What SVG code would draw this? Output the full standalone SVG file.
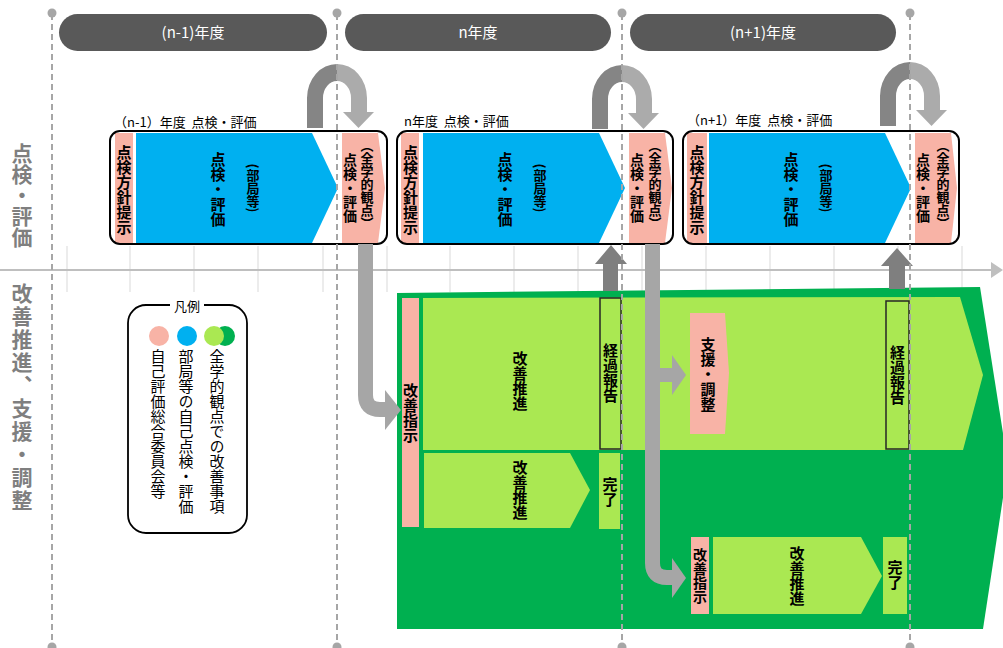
<svg xmlns="http://www.w3.org/2000/svg" width="1003" height="648" viewBox="0 0 1003 648">
<style>
text{font-family:"Noto Sans CJK JP","Noto Sans",sans-serif;}
.pill{fill:#595959}
.pt{fill:#fff;font-size:15px;text-anchor:middle}
.v{writing-mode:vertical-rl;text-anchor:middle;fill:#000}
.b{font-weight:bold}
.pink{fill:#F8B3A6}
.blue{fill:#00B0F0}
.lg{fill:#AAE852}
.dg{fill:#00B050}
.frame{fill:none;stroke:#000;stroke-width:2}
.dash{stroke:#A6A6A6;stroke-width:2;stroke-dasharray:6 4;fill:none}
.dot{fill:#A6A6A6}
.grid{stroke:#D9D9D9;stroke-width:1}
.side{writing-mode:vertical-rl;text-anchor:middle;fill:#7F7F7F;font-weight:bold;font-size:21px}
.lbl{font-size:13px;fill:#000}
.rep{stroke:#262626;stroke-width:1.5}
.lgt{writing-mode:vertical-rl;font-size:15px;fill:#000}
.dk{fill:#858585}
.lt{fill:#ABABAB}
.up{fill:#7F7F7F}
.down{fill:none;stroke:#A6A6A6;stroke-width:15}
.dh{fill:#A6A6A6}
</style>
<defs>
<g id="arch">
<path class="dk" d="M-30,128 V98 A30 34 0 0 1 0,64 V81 A14 17 0 0 0 -14,98 V128 Z"/>
<path class="lt" d="M0,64 A30 34 0 0 1 30,98 V112 H37 L21.5,128 L6,112 H14 V98 A14 17 0 0 0 0,81 Z"/>
</g>
</defs>

<!-- grid -->
<g id="grid">
<line class="grid" x1="67" y1="246" x2="67" y2="292"/>
<line class="grid" x1="130" y1="246" x2="130" y2="292"/>
<line class="grid" x1="194" y1="246" x2="194" y2="292"/>
<line class="grid" x1="258" y1="246" x2="258" y2="292"/>
<line class="grid" x1="323" y1="246" x2="323" y2="292"/>
<line class="grid" x1="387" y1="246" x2="387" y2="292"/>
<line class="grid" x1="450" y1="246" x2="450" y2="292"/>
<line class="grid" x1="514" y1="246" x2="514" y2="292"/>
<line class="grid" x1="578" y1="246" x2="578" y2="292"/>
<line class="grid" x1="642" y1="246" x2="642" y2="292"/>
<line class="grid" x1="706" y1="246" x2="706" y2="292"/>
<line class="grid" x1="770" y1="246" x2="770" y2="292"/>
<line class="grid" x1="834" y1="246" x2="834" y2="292"/>
<line class="grid" x1="898" y1="246" x2="898" y2="292"/>
<line class="grid" x1="962" y1="246" x2="962" y2="292"/>
<line x1="0" y1="270" x2="993" y2="270" stroke="#BFBFBF" stroke-width="2"/>
<polygon points="991,262 1003,270 991,278" fill="#BFBFBF"/>
</g>

<!-- year headers -->
<g id="year-n-1"><rect class="pill" x="59" y="14" width="268" height="37" rx="18.5"/><text class="pt" x="193" y="38">(n-1)年度</text></g>
<g id="year-n"><rect class="pill" x="345" y="14" width="266" height="37" rx="18.5"/><text class="pt" x="478" y="38">n年度</text></g>
<g id="year-n+1"><rect class="pill" x="630" y="14" width="266" height="37" rx="18.5"/><text class="pt" x="763" y="38">(n+1)年度</text></g>

<!-- side labels -->
<g id="side-labels">
<text class="side" x="22" y="195">点検・評価</text>
<text class="side" x="22" y="398" style="letter-spacing:2px">改善推進、支援・調整</text>
</g>

<!-- legend -->
<g id="legend">
<rect x="128" y="305" width="119" height="228" rx="18" fill="#fff" stroke="#000" stroke-width="1.8"/>
<rect x="170" y="297" width="34" height="16" fill="#fff"/>
<text x="187" y="311" font-size="13" text-anchor="middle">凡例</text>
<circle class="pink" cx="159" cy="336" r="10"/>
<circle class="blue" cx="187" cy="336" r="10"/>
<circle class="dg" cx="225" cy="336" r="10"/>
<circle class="lg" cx="214" cy="336" r="10"/>
<text class="lgt" x="217" y="349">全学的観点での改善事項</text>
<text class="lgt" x="186" y="349">部局等の自己点検・評価</text>
<text class="lgt" x="158" y="349">自己評価総合委員会等</text>
</g>

<!-- improvement area -->
<g id="improve-area">
<polygon class="dg" points="397,293 980,287 1008,465 983,629 397,629"/>
<polygon class="lg" points="423,298 960,297 983,375 963,450 423,450"/>
</g>
<g id="kaizen-shiji-1"><rect class="pink" x="402" y="298" width="17" height="229"/><text class="v b" font-size="15" x="410.5" y="413">改善指示</text></g>
<g id="kaizen-suishin-1"><text class="v b" font-size="15" x="520" y="381">改善推進</text></g>
<g id="keika-1"><rect class="lg rep" x="600" y="298" width="21" height="151"/><text class="v b" font-size="15" x="610.5" y="373">経過報告</text></g>
<g id="kaizen-suishin-2"><polygon class="lg" points="424,453 570,453 590,490 570,528 424,528"/><text class="v b" font-size="15" x="520" y="490">改善推進</text></g>
<g id="kanryo-1"><rect class="lg" x="599" y="453" width="21" height="76"/><text class="v b" font-size="15" x="610" y="492">完了</text></g>
<g id="shien"><polygon class="pink" points="690,313 725,313 729,373 725,434 690,434"/><text class="v b" font-size="15" x="708" y="374">支援・調整</text></g>
<g id="keika-2"><rect class="lg rep" x="886" y="301" width="23" height="148"/><text class="v b" font-size="15" x="897.5" y="375">経過報告</text></g>
<g id="kaizen-shiji-2"><rect class="pink" x="691" y="537" width="18" height="77"/><text class="v b" font-size="14" x="700" y="576">改善指示</text></g>
<g id="kaizen-suishin-3"><polygon class="lg" points="713,537 861,537 882,576 861,614 713,614"/><text class="v b" font-size="15" x="797" y="576">改善推進</text></g>
<g id="kanryo-2"><rect class="lg" x="883" y="537" width="24" height="77"/><text class="v b" font-size="15" x="895" y="575">完了</text></g>

<!-- evaluation boxes -->
<g id="eval-n-1">
<text class="lbl" x="114" y="127">（n-1）年度&#160;&#160;点検・評価</text>
<rect class="pink" x="115" y="133" width="18" height="110"/>
<polygon class="blue" points="136,133 312,133 338,188 312,243 136,243"/>
<polygon class="pink" points="342,133 378,133 385,188 378,243 342,243"/>
<rect class="frame" x="110" y="131" width="277" height="113" rx="10"/>
<text class="v b" font-size="15" x="124" y="190">点検方針提示</text>
<text class="v b" font-size="15" x="218" y="189">点検・評価</text>
<text class="v b" font-size="13" x="253" y="188">(部局等)</text>
<text class="v b" font-size="14" x="350" y="188">点検・評価</text>
<text class="v b" font-size="13" x="367" y="184">（全学的観点）</text>
</g>
<g id="eval-n">
<text class="lbl" x="404" y="126">n年度&#160;&#160;点検・評価</text>
<rect class="pink" x="401" y="133" width="18" height="110"/>
<polygon class="blue" points="423,133 599,133 625,188 599,243 423,243"/>
<polygon class="pink" points="629,133 665,133 672,188 665,243 629,243"/>
<rect class="frame" x="397" y="131" width="276" height="113" rx="10"/>
<text class="v b" font-size="15" x="410.5" y="190">点検方針提示</text>
<text class="v b" font-size="15" x="505" y="189">点検・評価</text>
<text class="v b" font-size="13" x="540" y="188">(部局等)</text>
<text class="v b" font-size="14" x="637" y="188">点検・評価</text>
<text class="v b" font-size="13" x="655" y="184">（全学的観点）</text>
</g>
<g id="eval-n+1">
<text class="lbl" x="687" y="125">（n+1）年度&#160;&#160;点検・評価</text>
<rect class="pink" x="687" y="133" width="20" height="110"/>
<polygon class="blue" points="709,133 885,133 911,188 885,243 709,243"/>
<polygon class="pink" points="915,133 951,133 957,188 951,243 915,243"/>
<rect class="frame" x="683" y="131" width="276" height="113" rx="10"/>
<text class="v b" font-size="15" x="697" y="190">点検方針提示</text>
<text class="v b" font-size="15" x="791" y="189">点検・評価</text>
<text class="v b" font-size="13" x="826" y="188">(部局等)</text>
<text class="v b" font-size="14" x="923" y="188">点検・評価</text>
<text class="v b" font-size="13" x="943" y="184">（全学的観点）</text>
</g>

<!-- connectors -->
<g id="connectors">
<use href="#arch" x="337" y="0"/>
<use href="#arch" x="622" y="1"/>
<use href="#arch" x="910" y="-2"/>
<path class="down" d="M365.5,244 V395 Q365.5,409.5 380,409.5 H386"/>
<polygon class="dh" points="385,390 401,410 385,430"/>
<path class="down" d="M652.5,244 V563 Q652.5,577.5 667,577.5 H673"/>
<polygon class="dh" points="672,558 686,578 672,598"/>
<rect class="dh" x="659" y="368" width="14" height="14"/>
<polygon class="dh" points="672,355 686,375 672,395"/>
<polygon class="up" points="603,291 603,264 595,264 611,245 627,264 618,264 618,291"/>
<polygon class="up" points="889,289 889,266 881,266 897,248 913,266 905,266 905,289"/>
</g>

<!-- year boundaries -->
<g id="boundaries">
<line class="dash" x1="52" y1="14" x2="52" y2="645"/>
<line class="dash" x1="337" y1="14" x2="337" y2="645"/>
<line class="dash" x1="622" y1="14" x2="622" y2="645"/>
<line class="dash" x1="910" y1="14" x2="910" y2="645"/>
<circle class="dot" cx="52" cy="13" r="4.5"/>
<circle class="dot" cx="337" cy="13" r="4.5"/>
<circle class="dot" cx="622" cy="13" r="4.5"/>
<circle class="dot" cx="910" cy="13" r="4.5"/>
<circle class="dot" cx="52" cy="647" r="4.5"/>
<circle class="dot" cx="337" cy="647" r="4.5"/>
<circle class="dot" cx="622" cy="647" r="4.5"/>
<circle class="dot" cx="910" cy="647" r="4.5"/>
</g>
</svg>
